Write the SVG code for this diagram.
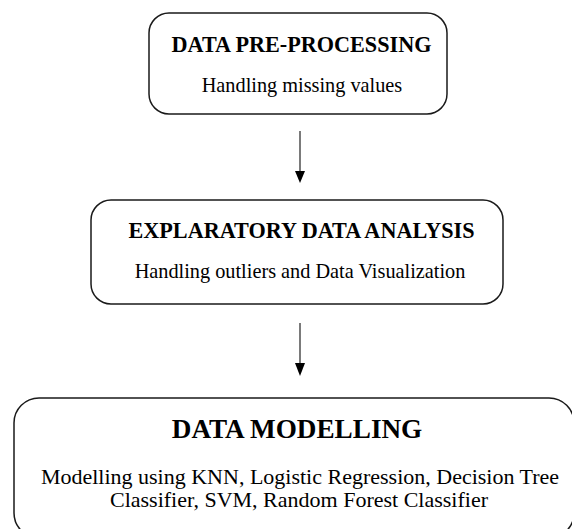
<svg xmlns="http://www.w3.org/2000/svg" width="572" height="529" viewBox="0 0 572 529">
<defs>
<style>
.box{fill:#fff;stroke:#1a1a1a;stroke-width:1.5}
.t{font-family:"Liberation Serif","Times New Roman",serif;font-weight:bold;fill:#000;text-anchor:middle}
.s{font-family:"Liberation Serif","Times New Roman",serif;fill:#000;text-anchor:middle}
.c{stroke:#333;stroke-width:1.3;fill:none}
.h{fill:#000}
</style>
</defs>
<rect width="572" height="529" fill="#fff"/>
<g id="connectors">
<line class="c" x1="300" y1="131" x2="300" y2="172"/>
<path class="h" d="M295,171 L305,171 L300,183 Z"/>
<line class="c" x1="300" y1="323" x2="300" y2="364"/>
<path class="h" d="M295,363 L305,363 L300,376 Z"/>
</g>
<g id="node1">
<rect class="box" x="149" y="13" width="298" height="101" rx="20" ry="20"/>
<text class="t" x="301.5" y="52" font-size="22.2">DATA PRE-PROCESSING</text>
<text class="s" x="302" y="92" font-size="20.3">Handling missing values</text>
</g>
<g id="node2">
<rect class="box" x="91" y="200" width="412" height="104" rx="20" ry="20"/>
<text class="t" x="301.5" y="238" font-size="22.2">EXPLARATORY DATA ANALYSIS</text>
<text class="s" x="300" y="278" font-size="20.3">Handling outliers and Data Visualization</text>
</g>
<g id="node3">
<rect class="box" x="14" y="398" width="560" height="140" rx="25" ry="25"/>
<text class="t" x="297" y="438" font-size="27.2">DATA MODELLING</text>
<text class="s" x="300" y="484" font-size="22">Modelling using KNN, Logistic Regression, Decision Tree</text>
<text class="s" x="299" y="507" font-size="22">Classifier, SVM, Random Forest Classifier</text>
</g>
</svg>
